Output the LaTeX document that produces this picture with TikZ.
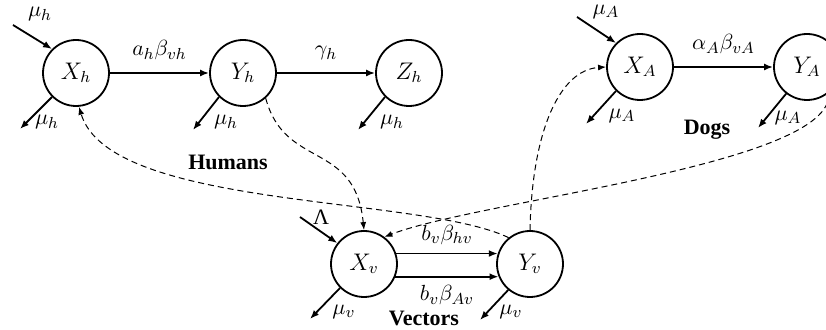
\documentclass[tikz,border=0pt]{standalone}
\usepackage[no-math]{fontspec}
\setmainfont{Liberation Serif}
\usetikzlibrary{arrows.meta}
\begin{document}
\begin{tikzpicture}[x=0.5pt,y=-0.5pt,
  st/.style={circle,draw,line width=0.9pt,minimum size=33pt,inner sep=0pt,font=\fontsize{12}{14}\selectfont},
  arr/.style={line width=0.9pt,-{Latex[length=4.5pt,width=3.5pt]}},
  dsh/.style={line width=0.5pt,dash pattern=on 3pt off 2pt,-{Latex[length=4pt,width=3pt]}},
  lbl/.style={font=\fontsize{11}{13}\selectfont,inner sep=0pt},
  grp/.style={font=\bfseries\fontsize{11}{13}\selectfont,inner sep=0pt}]
\clip (0,0) rectangle (826,330);
% nodes
\node[st] (Xh) at (76,73) {$X_h$};
\node[st] (Yh) at (243,73) {$Y_h$};
\node[st] (Zh) at (409,73) {$Z_h$};
\node[st] (XA) at (640,67) {$X_A$};
\node[st] (YA) at (807,67) {$Y_A$};
\node[st] (Xv) at (364,264) {$X_v$};
\node[st] (Yv) at (530,264) {$Y_v$};
% group labels
\node[grp] (hum) at (228,162) {Humans};
\node[grp] (dog) at (707,130) {Dogs};
\node[grp] (vec) at (424,318) {Vectors};
% free ends
\coordinate (ih) at (13,25);
\coordinate (oh1) at (20,129);
\coordinate (oh2) at (193,130);
\coordinate (oh3) at (358,130);
\coordinate (iA) at (577,17);
\coordinate (oA1) at (586,124);
\coordinate (oA2) at (758,128);
\coordinate (iv) at (300,217);
\coordinate (ov1) at (310,319);
\coordinate (ov2) at (480,320);
% humans
\draw[arr] (ih) -- (Xh.135);
\node[lbl] (lih) at (40,14) {$\mu_h$};
\draw[arr] (Xh.225) -- (oh1);
\node[lbl] (loh1) at (47,122) {$\mu_h$};
\draw[arr] (Xh) -- node[lbl,above=6pt] (lxy) {$a_h\beta_{vh}$} (Yh);
\draw[arr] (Yh) -- node[lbl,above=6pt] (lyz) {$\gamma_h$} (Zh);
\draw[arr] (Yh.225) -- (oh2);
\node[lbl] (loh2) at (226,122) {$\mu_h$};
\draw[arr] (Zh.225) -- (oh3);
\node[lbl] (loh3) at (392,122) {$\mu_h$};
% dogs
\draw[arr] (iA) -- (XA.135);
\node[lbl] (liA) at (606,12) {$\mu_A$};
\draw[arr] (XA.225) -- (oA1);
\node[lbl] (loA1) at (622,116) {$\mu_A$};
\draw[arr] (XA) -- node[lbl,above=6pt] (lxyA) {$\alpha_A\beta_{vA}$} (YA);
\draw[arr] (YA.232) -- (oA2);
\node[lbl] (loA2) at (788,118) {$\mu_A$};
% vectors
\draw[arr] (iv) -- (Xv.142);
\node[lbl] (liv) at (321,217) {Λ};
\draw[arr] (Xv.18) -- node[lbl,above=4pt] (lhv) {$b_v\beta_{hv}$} (Yv.162);
\draw[arr] (Xv.-22) -- node[lbl,below=4pt] (lAv) {$b_v\beta_{Av}$} (Yv.-158);
\draw[arr] (Xv.225) -- (ov1);
\node[lbl] (lov1) at (344,312) {$\mu_v$};
\draw[arr] (Yv.230) -- (ov2);
\node[lbl] (lov2) at (511,312) {$\mu_v$};
% dashed transmission
\draw[dsh] (Yv.129) .. controls (420,195) and (110,210) .. (Xh.-85);
\draw[dsh] (Yh.-48) .. controls (285,170) and (355,140) .. (Xv.north);
\draw[dsh] (Yv.north) .. controls (532,130) and (560,70) .. (XA.west);
\draw[dsh] (YA.-50) .. controls (835,165) and (480,200) .. (Xv.53);
\end{tikzpicture}
\end{document}
